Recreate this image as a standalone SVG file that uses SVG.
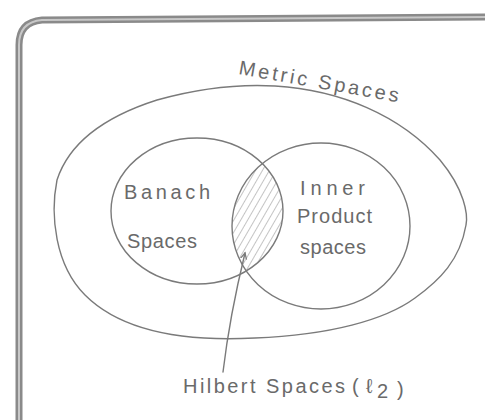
<svg xmlns="http://www.w3.org/2000/svg" width="485" height="420" viewBox="0 0 485 420">
<style>
.ln{fill:none;stroke:#7a7a7a;stroke-width:1.4;stroke-linecap:round}
.fr{fill:none;stroke:#8a8a8a;stroke-width:7}
.fr2{fill:none;stroke:#c8c8c8;stroke-width:2}
.t{font-family:"Liberation Sans",Arial,sans-serif;fill:#6a6a6a;font-size:20px}
</style>
<defs>
<pattern id="hatch" width="6" height="6" patternUnits="userSpaceOnUse" patternTransform="rotate(30)">
<line x1="0" y1="0" x2="0" y2="6" stroke="#8a8a8a" stroke-width="1"/>
</pattern>
<clipPath id="cA"><ellipse cx="197" cy="211" rx="86" ry="73"/></clipPath>
<clipPath id="cB"><ellipse cx="321" cy="226" rx="89" ry="83"/></clipPath>
<marker id="ah" markerWidth="8" markerHeight="8" refX="6" refY="4" orient="auto" markerUnits="userSpaceOnUse">
<path d="M0,1 L6,4 L0,7" fill="none" stroke="#7a7a7a" stroke-width="1.3"/>
</marker>
</defs>
<rect width="485" height="420" fill="#fff"/>
<g id="frame">
<path class="fr" d="M19,420 L19,45 Q19,22 42,20 L485,17"/>
<path class="fr2" d="M19,420 L19,45 Q19,22 42,20 L485,17"/>
</g>
<g id="metric">
<path class="ln" d="M157,100 C200,88 240,84 275,86 C340,90 400,115 440,160 C465,190 468,215 466,225 C460,260 440,280 415,298 C385,320 330,335 255,338 C180,342 120,330 85,295 C55,265 50,215 57,180 C70,140 110,115 157,100 Z"/>
<text class="t" x="238" y="74" font-size="24" textLength="162" transform="rotate(10 238 74)">Metric Spaces</text>
</g>
<g id="hilbert-region">
<g clip-path="url(#cA)"><rect x="220" y="140" width="80" height="160" fill="url(#hatch)" clip-path="url(#cB)"/></g>
</g>
<g id="banach">
<ellipse class="ln" cx="197" cy="211" rx="86" ry="73"/>
<text class="t" x="124" y="199" font-size="25" textLength="86">Banach</text>
<text class="t" x="127" y="248" font-size="23" textLength="70">Spaces</text>
</g>
<g id="inner">
<ellipse class="ln" cx="321" cy="226" rx="89" ry="83"/>
<text class="t" x="300" y="195" font-size="19" textLength="65">Inner</text>
<text class="t" x="297" y="223" font-size="19" textLength="75">Product</text>
<text class="t" x="300" y="254" font-size="19" textLength="66">spaces</text>
</g>
<g id="connectors">
<path class="ln" d="M223,372 C228,330 236,290 245,253" marker-end="url(#ah)"/>
</g>
<g id="hilbert">
<text class="t" x="183" y="393" font-size="24" textLength="162">Hilbert Spaces</text>
<text class="t" x="352" y="393" font-size="28">(</text>
<text class="t" x="366" y="393" font-size="28">ℓ</text>
<text class="t" x="377" y="398" font-size="18">2</text>
<text class="t" x="397" y="396" font-size="28">)</text>
</g>
</svg>
